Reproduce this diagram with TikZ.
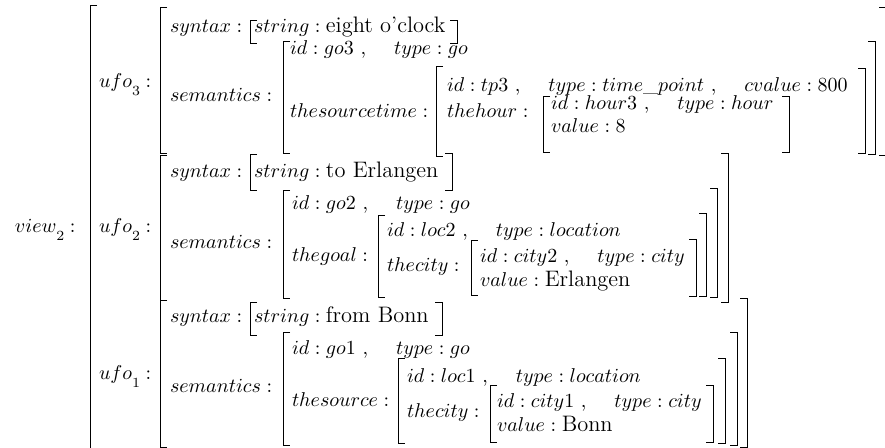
\documentclass[tikz,border=0pt]{standalone}
\usepackage{amsmath}
\usepackage{tikz}
\usetikzlibrary{positioning}

\newcommand{\lowsub}[1]{\raisebox{-4pt}{$\scriptstyle #1$}}
\newcommand{\strval}[1]{\text{\fontsize{11.2}{13.2}\selectfont #1}}
\newcommand{\avmsep}{\ ,\hspace{14pt}}
\newcommand{\avmleft}[3]{\draw[brk] ({#1+7},#2) -- (#1,#2) -- (#1,#3) -- ({#1+7},#3);}
\newcommand{\avmright}[3]{\draw[brk] ({#1-7},#2) -- (#1,#2) -- (#1,#3) -- ({#1-7},#3);}

\begin{document}
\begin{tikzpicture}[
    x=0.5pt, y=-0.5pt,
    every node/.style={font=\normalsize},
    feat/.style={anchor=base west, inner sep=0pt, outer sep=0pt},
    brk/.style={line width=0.45pt, line cap=butt}
]
\useasboundingbox (0,0) rectangle (885,448);

\node[feat] (view) at (15,233) {$view\lowsub{2} :$};
\avmleft{90}{5}{470}

% ufo 3
\node[feat] (ufothree) at (99,88) {$ufo\lowsub{3} :$};
\avmleft{160}{7}{153}
\avmright{886}{7}{155}
\node[feat] (synthree) at (170,33) {$syntax :$};
\avmleft{250}{20}{43}
\node[feat] (strthree) at (254,33) {$string : \strval{eight o'clock}$};
\avmright{457}{20}{43}
\node[feat] (semthree) at (170,102) {$semantics :$};
\avmleft{283}{41}{153}
\avmright{875}{41}{154}
\node[feat] (gothree) at (290,55) {$id : go3$\avmsep$type : go$};
\node[feat] (timethree) at (290,118) {$thesourcetime :$};
\avmleft{436}{66}{156}
\avmright{865}{68}{153}
\node[feat] (tpthree) at (447,92) {$id : tp3$\avmsep$type : time\_point$\avmsep$cvalue : 800$};
\node[feat] (hourthree) at (447,118) {$thehour :$};
\avmleft{543}{96}{152}
\avmright{789}{96}{152}
\node[feat] (hidthree) at (551,110) {$id : hour3$\avmsep$type : hour$};
\node[feat] (hvalthree) at (551,133) {$value : 8$};

% ufo 2
\node[feat] (ufotwo) at (99,233) {$ufo\lowsub{2} :$};
\avmleft{160}{155}{300}
\avmright{728}{153}{302}
\node[feat] (syntwo) at (170,178) {$syntax :$};
\avmleft{250}{154}{190}
\node[feat] (strtwo) at (254,178) {$string : \strval{to Erlangen}$};
\avmright{452}{153}{190}
\node[feat] (semtwo) at (170,249) {$semantics :$};
\avmleft{283}{190}{298}
\avmright{717}{188}{297}
\node[feat] (gotwo) at (292,210) {$id : go2$\avmsep$type : go$};
\node[feat] (goaltwo) at (292,262) {$thegoal :$};
\avmleft{378}{215}{297}
\avmright{706}{213}{296}
\node[feat] (loctwo) at (387,237) {$id : loc2$\avmsep$type : location$};
\node[feat] (citytwo) at (387,272) {$thecity :$};
\avmleft{471}{240}{295}
\avmright{696}{239}{296}
\node[feat] (cidtwo) at (480,263) {$id : city2$\avmsep$type : city$};
\node[feat] (cvaltwo) at (480,287) {$value : \strval{Erlangen}$};

% ufo 1
\node[feat] (ufoone) at (99,380) {$ufo\lowsub{1} :$};
\avmleft{160}{300}{447}
\avmright{747}{298}{447}
\node[feat] (synone) at (170,323) {$syntax :$};
\avmleft{250}{302}{335}
\node[feat] (strone) at (254,323) {$string : \strval{from Bonn}$};
\avmright{442}{302}{335}
\node[feat] (semone) at (170,393) {$semantics :$};
\avmleft{283}{332}{445}
\avmright{737}{332}{445}
\node[feat] (goone) at (292,355) {$id : go1$\avmsep$type : go$};
\node[feat] (srcone) at (292,407) {$thesource :$};
\avmleft{398}{358}{443}
\avmright{725}{358}{443}
\node[feat] (locone) at (407,383) {$id : loc1$\avmsep$type : location$};
\node[feat] (cityone) at (407,418) {$thecity :$};
\avmleft{490}{385}{442}
\avmright{713}{385}{442}
\node[feat] (cidone) at (497,408) {$id : city1$\avmsep$type : city$};
\node[feat] (cvalone) at (497,432) {$value : \strval{Bonn}$};

\end{tikzpicture}
\end{document}
